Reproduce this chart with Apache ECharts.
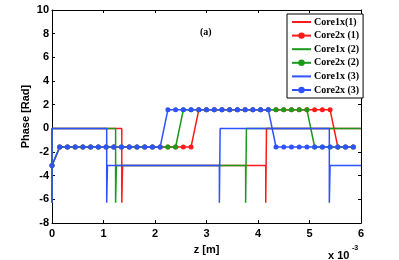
<!DOCTYPE html>
<html>
<head>
<meta charset="utf-8">
<script src="https://cdn.jsdelivr.net/npm/echarts@6/dist/echarts.min.js"></script>
<style>
html,body{margin:0;padding:0;background:#fff;}
#c{width:399px;height:260px;}
</style>
</head>
<body>
<div id="c"></div>
<script>
// z positions (x 1e-3 m) of the Core2x samples
var zCore2 = [0, 0.15, 0.3, 0.45, 0.6, 0.75, 0.9, 1.05, 1.2, 1.35, 1.5, 1.65, 1.8, 1.95, 2.1, 2.25, 2.4, 2.55, 2.7, 2.85,
  3.0, 3.15, 3.3, 3.45, 3.6, 3.75, 3.9, 4.05, 4.2, 4.35, 4.5, 4.65, 4.8, 4.95, 5.1, 5.25, 5.4, 5.55, 5.7, 5.85];

var core2x1 = [-3.14, -1.57, -1.57, -1.57, -1.57, -1.57, -1.57, -1.57, -1.57, -1.57, -1.57, -1.57, -1.57, -1.57, -1.57, -1.57, -1.57, -1.57, -1.57,
  1.57, 1.57, 1.57, 1.57, 1.57, 1.57, 1.57, 1.57, 1.57, 1.57, 1.57, 1.57, 1.57, 1.57, 1.57, 1.57, 1.57, 1.57,
  -1.57, -1.57, -1.57];
var core2x2 = [-3.14, -1.57, -1.57, -1.57, -1.57, -1.57, -1.57, -1.57, -1.57, -1.57, -1.57, -1.57, -1.57, -1.57, -1.57, -1.57, -1.57,
  1.57, 1.57, 1.57, 1.57, 1.57, 1.57, 1.57, 1.57, 1.57, 1.57, 1.57, 1.57, 1.57, 1.57, 1.57, 1.57, 1.57,
  -1.57, -1.57, -1.57, -1.57, -1.57, -1.57];
var core2x3 = [-3.14, -1.57, -1.57, -1.57, -1.57, -1.57, -1.57, -1.57, -1.57, -1.57, -1.57, -1.57, -1.57, -1.57, -1.57,
  1.57, 1.57, 1.57, 1.57, 1.57, 1.57, 1.57, 1.57, 1.57, 1.57, 1.57, 1.57, 1.57, 1.57,
  -1.57, -1.57, -1.57, -1.57, -1.57, -1.57, -1.57, -1.57, -1.57, -1.57, -1.57];

// Core1x step curves
var core1x1Z = [0, 0, 1.355, 1.355, 1.37, 4.15, 4.15, 4.165, 6];
var core1x1P = [-6.28, 0, 0, -6.28, -3.14, -3.14, -6.28, 0, 0];
var core1x2Z = [0, 0, 1.235, 1.235, 1.25, 3.76, 3.76, 3.775, 6];
var core1x2P = [-6.28, 0, 0, -6.28, -3.14, -3.14, -6.28, 0, 0];
var core1x3Z = [0, 0, 1.062, 1.062, 1.077, 3.25, 3.25, 3.265, 5.385, 5.385, 5.4, 6];
var core1x3P = [-6.28, 0, 0, -6.28, -3.14, -3.14, -6.28, 0, 0, -6.28, -3.14, -3.14];

var seriesNames = ['Core1x(1)', 'Core2x (1)', 'Core1x (2)', 'Core2x (2)', 'Core1x (3)', 'Core2x (3)'];
var xTicks = [0, 1, 2, 3, 4, 5, 6];
var yTicks = [-8, -6, -4, -2, 0, 2, 4, 6, 8, 10];

var RED = '#ff1a1a', GREEN = '#1a9a1a', BLUE = '#2f52ff';

function pairs(zs, ps) { return zs.map(function (z, i) { return [z, ps[i]]; }); }

var tickFont = {fontFamily: 'Liberation Sans', fontWeight: 'bold', fontSize: 11, color: '#000'};

function lineSeries(name, data, color, marker) {
  return {
    name: name, type: 'line', data: data, animation: false,
    symbol: marker ? 'circle' : 'none', symbolSize: 5, showSymbol: marker,
    lineStyle: {color: color, width: 1.5},
    itemStyle: {color: color},
    emphasis: {disabled: true}
  };
}

var legendData = seriesNames.map(function (n, i) {
  return i % 2 === 0 ? {name: n, itemStyle: {opacity: 0}} : {name: n};
});

var chart = echarts.init(document.getElementById('c'), null, {renderer: 'canvas'});
chart.setOption({
  backgroundColor: '#fff',
  animation: false,
  grid: {left: 52, right: 38, top: 10, bottom: 32, containLabel: false},
  xAxis: [{
    type: 'value', min: xTicks[0], max: xTicks[xTicks.length - 1], interval: 1,
    name: 'z [m]', nameLocation: 'middle', nameGap: 14,
    nameTextStyle: {fontFamily: 'Liberation Sans', fontWeight: 'bold', fontSize: 11, color: '#000'},
    axisLine: {onZero: false, lineStyle: {color: '#000', width: 1}},
    axisTick: {inside: true, length: 3, lineStyle: {color: '#000'}},
    axisLabel: Object.assign({margin: 5}, tickFont),
    splitLine: {show: false}
  }, {
    type: 'value', position: 'top', min: xTicks[0], max: xTicks[xTicks.length - 1], interval: 1,
    axisLine: {onZero: false, lineStyle: {color: '#000', width: 1}},
    axisTick: {inside: true, length: 3, lineStyle: {color: '#000'}},
    axisLabel: {show: false}, splitLine: {show: false}
  }],
  yAxis: [{
    type: 'value', min: yTicks[0], max: yTicks[yTicks.length - 1], interval: 2,
    name: 'Phase [Rad]', nameLocation: 'middle', nameGap: 21, nameRotate: 90,
    nameMoveOverlap: false,
    nameTextStyle: {fontFamily: 'Liberation Sans', fontWeight: 'bold', fontSize: 11, color: '#000'},
    axisLine: {show: true, onZero: false, lineStyle: {color: '#000', width: 1}},
    axisTick: {show: true, inside: true, length: 3, lineStyle: {color: '#000'}},
    axisLabel: Object.assign({margin: 3}, tickFont),
    splitLine: {show: false}
  }, {
    type: 'value', position: 'right', min: yTicks[0], max: yTicks[yTicks.length - 1], interval: 2,
    axisLine: {show: true, onZero: false, lineStyle: {color: '#000', width: 1}},
    axisTick: {show: true, inside: true, length: 3, lineStyle: {color: '#000'}},
    axisLabel: {show: false}, splitLine: {show: false}
  }],
  legend: {
    orient: 'vertical', left: 287, top: 14,
    padding: [3, 4, 3, 4],
    itemWidth: 19, itemHeight: 8, itemGap: 3.6,
    backgroundColor: '#fff', borderColor: '#000', borderWidth: 1, borderRadius: 0,
    textStyle: {fontFamily: 'Liberation Serif', fontWeight: 'bold', fontSize: 10, color: '#000', padding: [0, 0, 0, -2]},
    data: legendData,
    selectedMode: false
  },
  graphic: [
    {type: 'text', left: 200, top: 27, style: {text: '(a)', font: 'bold 10px "Liberation Serif"', fill: '#000'}},
    {type: 'text', left: 328, top: 250, style: {text: 'x 10', font: 'bold 11px "Liberation Sans"', fill: '#000'}},
    {type: 'text', left: 352, top: 245, style: {text: '-3', font: 'bold 7px "Liberation Sans"', fill: '#000'}}
  ],
  series: [
    lineSeries(seriesNames[0], pairs(core1x1Z, core1x1P), RED, false),
    lineSeries(seriesNames[1], pairs(zCore2, core2x1), RED, true),
    lineSeries(seriesNames[2], pairs(core1x2Z, core1x2P), GREEN, false),
    lineSeries(seriesNames[3], pairs(zCore2, core2x2), GREEN, true),
    lineSeries(seriesNames[4], pairs(core1x3Z, core1x3P), BLUE, false),
    lineSeries(seriesNames[5], pairs(zCore2, core2x3), BLUE, true)
  ]
});
</script>
</body>
</html>
